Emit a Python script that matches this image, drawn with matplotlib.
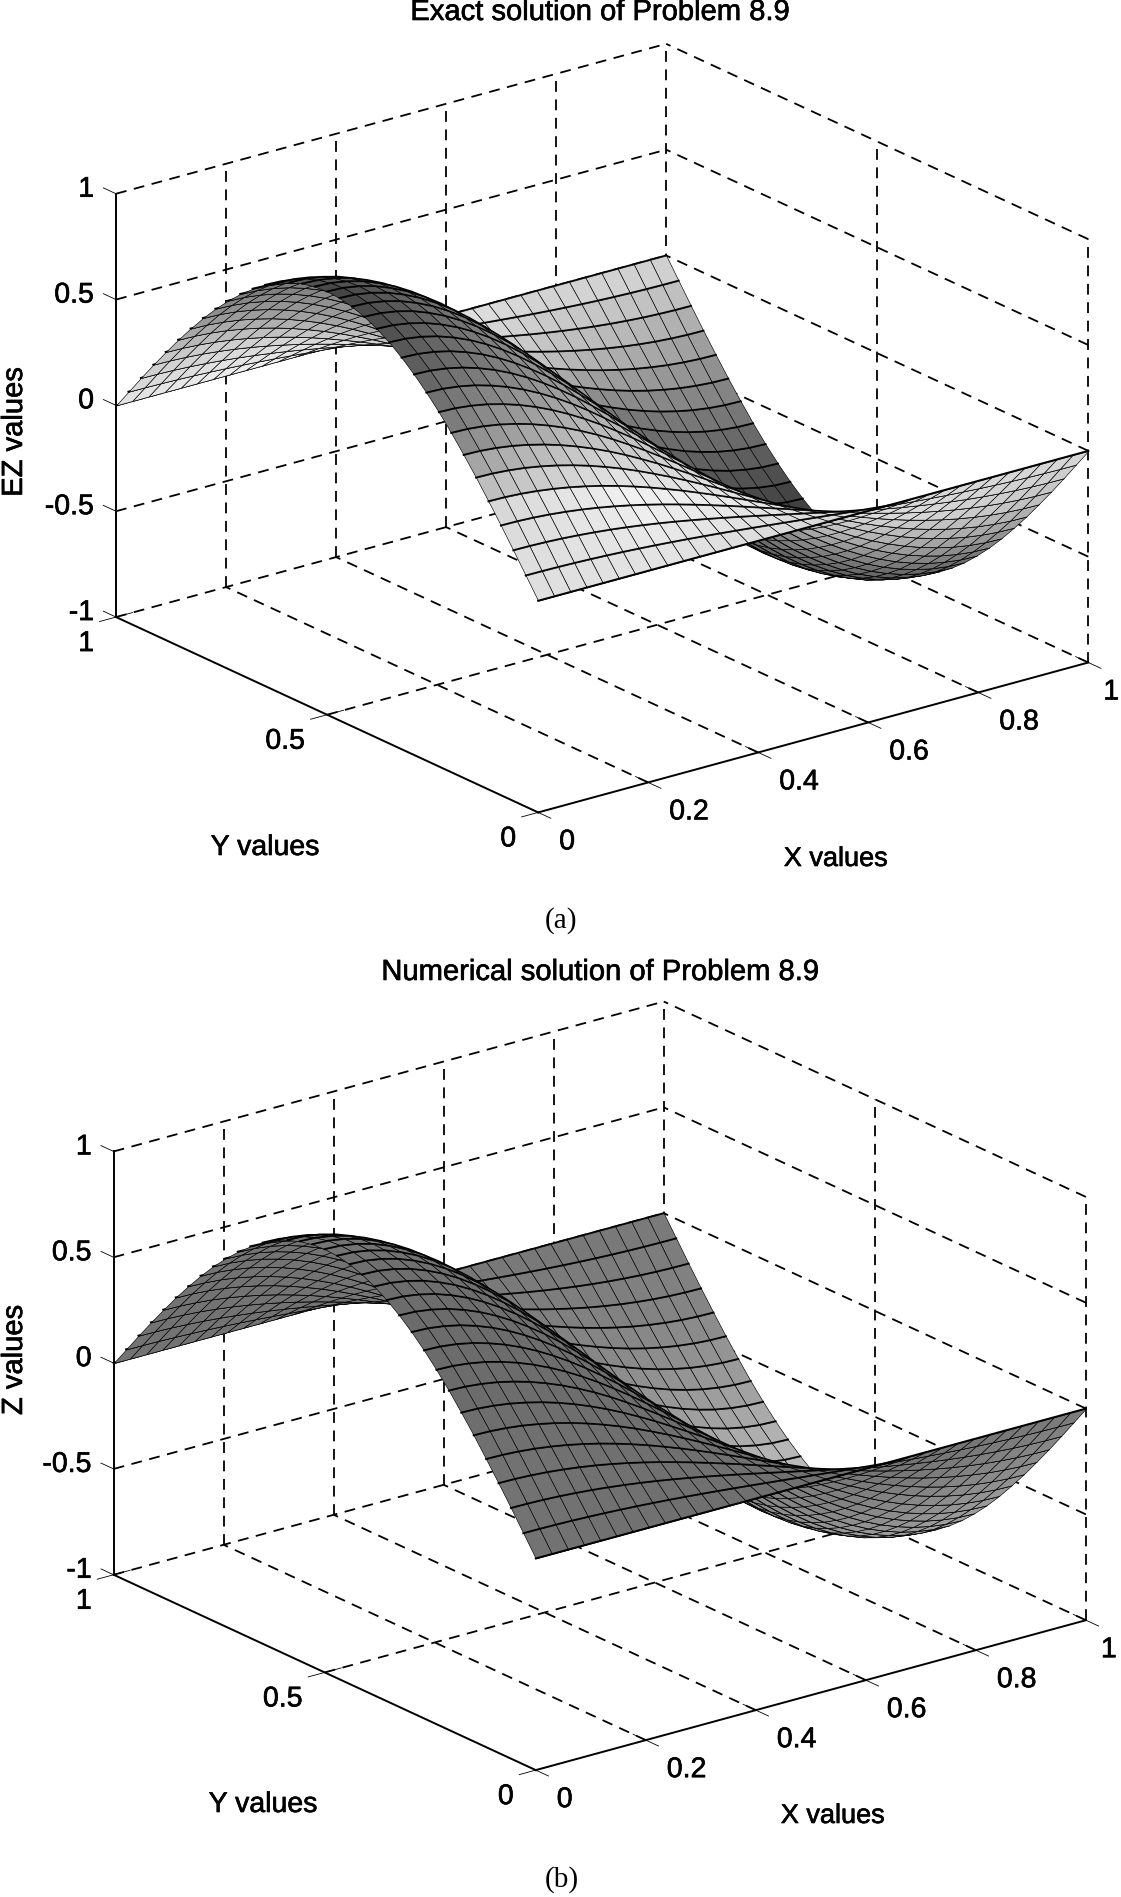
import numpy as np
import matplotlib
matplotlib.use('Agg')
import matplotlib.pyplot as plt
import matplotlib.patheffects as pe
from mpl_toolkits.mplot3d import proj3d
from mpl_toolkits.mplot3d.art3d import Poly3DCollection

#===================================================================================
#                           data
#===================================================================================
a_x = [i / 34 for i in range(35)]
a_y = [j / 34 for j in range(35)]
# surface height along the x=0 edge direction (+1 ... -1) and along y (0 ... 1 ... 0)
z_along_x = [1.000, .996, .983, .962, .932, .895, .850, .798, .739, .674, .603, .526,
             .446, .361, .274, .184, .092, 0., -.092, -.184, -.274, -.361, -.446, -.526,
             -.603, -.674, -.739, -.798, -.850, -.895, -.932, -.962, -.983, -.996, -1.000]
z_along_y = [0., .092, .184, .274, .361, .446, .526, .603, .674, .739, .798, .850,
             .895, .932, .962, .983, .996, 1.000, .996, .983, .962, .932, .895, .850,
             .798, .739, .674, .603, .526, .446, .361, .274, .184, .092, 0.]

x_ticks = [0, .2, .4, .6, .8, 1]
x_ticklabels = ['0', '0.2', '0.4', '0.6', '0.8', '1']
y_ticks = [0, .5, 1]
y_ticklabels = ['0', '0.5', '1']
z_ticks = [-1, -.5, 0, .5, 1]
z_ticklabels = ['-1', '-0.5', '0', '0.5', '1']

# grey levels of the faces, rows: x, columns: y
shade_x = [0, .25, .5, .75, 1]
shade_y = [0, .1, .2, .3, .4, .5, .6, .7, .8, .9, 1]
shade_exact = [[.88, .85, .50, .36, .28, .25, .38, .46, .58, .78, .90],
               [.88, .95, .75, .58, .55, .55, .55, .55, .62, .85, .95],
               [.85, .90, .88, .75, .65, .60, .60, .65, .80, .92, .92],
               [.85, .85, .70, .50, .40, .38, .35, .35, .45, .72, .85],
               [.85, .75, .55, .38, .28, .22, .22, .27, .45, .62, .85]]
shade_num = [[.45, .45, .42, .42, .43, .46, .46, .45, .45, .45, .45],
             [.44, .44, .43, .43, .44, .45, .45, .45, .45, .45, .45],
             [.44, .44, .44, .44, .45, .47, .50, .55, .50, .47, .46],
             [.45, .47, .50, .52, .55, .58, .60, .62, .55, .50, .47],
             [.48, .55, .60, .65, .70, .72, .78, .72, .62, .52, .47]]

#===================================================================================
#                           parameters
#===================================================================================
W, H = 1121, 1897
font = 'Liberation Sans'
fs = 20.5
dashes = (6, 4.2)
stroke = [pe.withStroke(linewidth=.45, foreground='k')]


def fig_text(px, py, s, **kw):
    kw.setdefault('family', font)
    kw.setdefault('fontsize', fs)
    t = fig.text(px / W, 1 - py / H, s, ha='center', va='center', **kw)
    if kw['family'] == font:
        t.set_path_effects(stroke)


def grey_at(table, x, y):
    a_col = [np.interp(y, shade_y, row) for row in table]
    return np.interp(x, shade_x, a_col)


def draw_panel(left, bottom, table):
    size = 1048.6
    ax = fig.add_axes([left / W, bottom / H, size / W, size / H], projection='3d', computed_zorder=False)
    ax.set_proj_type('ortho')
    ax.view_init(elev=20.8, azim=-127.5)
    ax.set_box_aspect((1, 1, .653))
    ax.set_xlim(0, 1)
    ax.set_ylim(0, 1)
    ax.set_zlim(-1, 1)
    ax.set_axis_off()
    ax.patch.set_visible(False)

    # dashed grid on floor and the two back walls
    def dash(xs, ys, zs):
        ax.plot(xs, ys, zs, color='k', lw=1.3, dashes=dashes, zorder=1)
    for x in x_ticks[1:-1]:
        dash([x, x], [0, 1], [-1, -1])
        dash([x, x], [1, 1], [-1, 1])
    dash([1, 1], [0, 1], [-1, -1])
    dash([0, 1], [1, 1], [-1, -1])
    for y in y_ticks[1:-1]:
        dash([0, 1], [y, y], [-1, -1])
        dash([1, 1], [y, y], [-1, 1])
    dash([1, 1], [1, 1], [-1, 1])
    dash([1, 1], [0, 0], [-1, 1])
    for z in z_ticks[1:]:
        dash([0, 1], [1, 1], [z, z])
        dash([1, 1], [0, 1], [z, z])

    # solid axes and ticks
    for xs, ys, zs in [([0, 0], [1, 1], [-1, 1]), ([0, 0], [0, 1], [-1, -1]), ([0, 1], [0, 0], [-1, -1])]:
        ax.plot(xs, ys, zs, color='k', lw=1.4, zorder=1)
    for x in x_ticks:
        ax.plot([x, x], [-.03, .03], [-1, -1], color='k', lw=.6, zorder=1)
    for y in y_ticks:
        ax.plot([-.03, .03], [y, y], [-1, -1], color='k', lw=.6, zorder=1)
    for z in z_ticks:
        ax.plot([0, 0], [1, 1.03], [z, z], color='k', lw=.6, zorder=1)

    # surface, painted from far to near
    Z = np.outer(z_along_x, z_along_y)
    order = 2
    for j in range(len(a_y) - 2, -1, -1):
        if j == len(a_y) - 2:
            ax.plot(a_x, [a_y[-1]] * len(a_x), Z[:, -1], color='k', lw=1.4, zorder=order)
            order += 1
        for i in range(len(a_x) - 2, -1, -1):
            verts = [(a_x[i], a_y[j], Z[i, j]), (a_x[i + 1], a_y[j], Z[i + 1, j]),
                     (a_x[i + 1], a_y[j + 1], Z[i + 1, j + 1]), (a_x[i], a_y[j + 1], Z[i, j + 1])]
            g = grey_at(table, .5 * (a_x[i] + a_x[i + 1]), .5 * (a_y[j] + a_y[j + 1]))
            poly = Poly3DCollection([verts], facecolors=[(g, g, g)], edgecolors='k', linewidths=.45, zorder=order)
            ax.add_collection3d(poly, autolim=False)
            order += 1
        ax.plot(a_x, [a_y[j]] * len(a_x), Z[:, j], color='k', lw=1.4, zorder=order)
        order += 1

    # tick labels, offset in pixels from the tick on the axis
    def label(x, y, z, s, dx, dy, ha):
        px, py, _ = proj3d.proj_transform(x, y, z, ax.get_proj())
        t = ax.annotate(s, (px, py), xytext=(dx, dy), textcoords='offset pixels', ha=ha, va='center',
                        family=font, fontsize=fs, annotation_clip=False, zorder=order + 1)
        t.set_path_effects(stroke)
    for x, s in zip(x_ticks, x_ticklabels):
        # the last label would run off the right edge of the figure
        label(x, 0, -1, s, 15 if x == 1 else 21, -30, 'left')
    for y, s in zip(y_ticks, y_ticklabels):
        label(0, y, -1, s, -22, -27, 'right')
    for z, s in zip(z_ticks, z_ticklabels):
        label(0, 1, z, s, -22, 4, 'right')
    return ax


#===================================================================================
#                              plots
#===================================================================================
fig = plt.figure(figsize=(W / 100, H / 100), dpi=100)

draw_panel(63.7, 930.4, shade_exact)
draw_panel(61.3, -27.3, shade_num)

fig_text(600, 12, 'Exact solution of Problem 8.9', fontsize=21)
fig_text(265, 848, 'Y values', fontsize=20.5)
fig_text(836, 859, 'X values', fontsize=19.5)
fig_text(14, 432, 'EZ values', rotation=90, fontsize=21)
fig_text(561, 921, '(a)', family='Liberation Serif', fontsize=21)

fig_text(600, 972, 'Numerical solution of Problem 8.9', fontsize=21)
fig_text(263, 1805, 'Y values', fontsize=20.5)
fig_text(833, 1816, 'X values', fontsize=19.5)
fig_text(14, 1360, 'Z values', rotation=90, fontsize=21)
fig_text(562, 1880, '(b)', family='Liberation Serif', fontsize=21)

fig.savefig('out.png', dpi=100)
